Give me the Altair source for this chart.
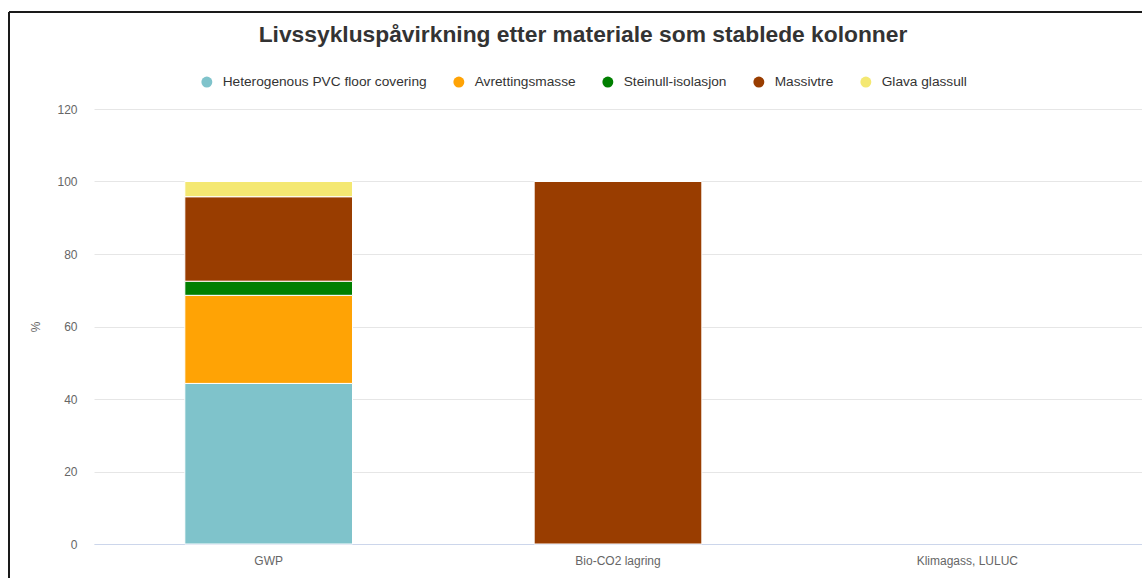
import altair as alt
import pandas as pd

# Chart content
categories = ["GWP", "Bio-CO2 lagring", "Klimagass, LULUC"]
materials = [
    "Heterogenous PVC floor covering",
    "Avrettingsmasse",
    "Steinull-isolasjon",
    "Massivtre",
    "Glava glassull",
]
colors = ["#7fc3cb", "#ffa305", "#007f00", "#993d00", "#f4e872"]

# Share (%) of each material per impact category, in material order
gwp_values = [44.3, 24.3, 3.9, 23.3, 4.2]
bio_co2_values = [0, 0, 0, 100, 0]
luluc_values = [0, 0, 0, 0, 0]

rows = []
for cat, vals in zip(categories, [gwp_values, bio_co2_values, luluc_values]):
    for i, (mat, v) in enumerate(zip(materials, vals)):
        if v > 0:
            rows.append({"kategori": cat, "materiale": mat, "andel": v, "rekkefolge": i})
df = pd.DataFrame(rows)

FONT = "Liberation Sans"

bars = alt.Chart(df).mark_bar(stroke="white", strokeWidth=1).encode(
    x=alt.X(
        "kategori:N",
        scale=alt.Scale(domain=categories, paddingInner=0.52, paddingOuter=0.26),
        axis=alt.Axis(
            title=None, labelAngle=0, ticks=False, domain=True, grid=False,
            domainColor="#ccd6eb", domainWidth=1, labelPadding=11,
            labelColor="#666666", labelFontSize=12, labelFont=FONT,
        ),
    ),
    y=alt.Y(
        "andel:Q",
        stack="zero",
        scale=alt.Scale(domain=[0, 120], nice=False),
        axis=alt.Axis(
            title="%", values=[0, 20, 40, 60, 80, 100, 120], ticks=False,
            domain=False, gridColor="#e6e6e6", gridWidth=1,
            labelColor="#666666", labelFontSize=12, labelFont=FONT,
            labelPadding=17, titleColor="#666666", titleFontSize=12,
            titleFont=FONT, titleFontWeight="normal", titlePadding=14,
        ),
    ),
    color=alt.Color(
        "materiale:N",
        scale=alt.Scale(domain=materials, range=colors),
        sort=materials,
        legend=alt.Legend(
            title=None, orient="none", direction="horizontal",
            legendX=106, legendY=-34, symbolType="circle", symbolSize=120,
            symbolStrokeWidth=0, symbolOpacity=1, labelFont=FONT,
            labelFontSize=13.7, labelColor="#333333", labelOffset=9,
            labelLimit=400, columnPadding=25,
        ),
    ),
    order=alt.Order("rekkefolge:Q", sort="ascending"),
)

# Outer frame drawn along the left and top edges
frame_data = alt.Data(values=[{"k": 1}])
left_edge = alt.Chart(frame_data).mark_rule(color="#1a1a1a", strokeWidth=2).encode(
    x=alt.value(-85), y=alt.value(-97), y2=alt.value(600)
)
top_edge = alt.Chart(frame_data).mark_rule(color="#1a1a1a", strokeWidth=2).encode(
    x=alt.value(-85), x2=alt.value(1200), y=alt.value(-97)
)

chart = alt.layer(bars, left_edge, top_edge).properties(
    width=1048,
    height=435,
    background="white",
    padding={"left": 94, "top": 109, "right": 0, "bottom": 34},
    autosize=alt.AutoSizeParams(type="none"),
    title=alt.TitleParams(
        "Livssykluspåvirkning etter materiale som stablede kolonner",
        font=FONT, fontSize=22.8, fontWeight="bold", color="#333333",
        anchor="middle", baseline="bottom", dx=-35, offset=-59,
    ),
).configure_view(strokeWidth=0, stroke="transparent").configure_axisY(
    domain=False
).configure_axisX(grid=False)

chart.save("out.html", embed_options={"renderer": "svg", "actions": False})
